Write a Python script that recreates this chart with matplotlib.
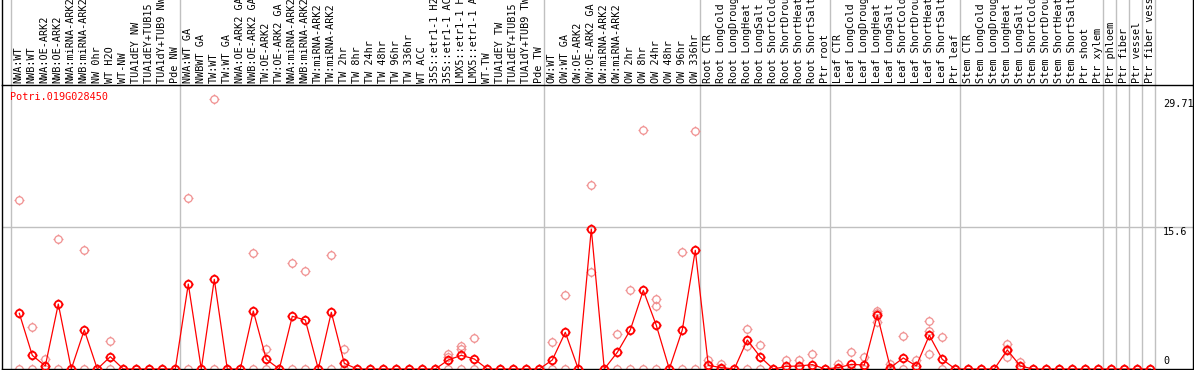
import matplotlib
matplotlib.use("Agg")
import matplotlib.pyplot as plt
from matplotlib.path import Path
from matplotlib.lines import Line2D
import numpy as np

title = "Potri.019G028450"

labels = [
    "NWA:WT", "NWB:WT", "NWA:OE-ARK2", "NWB:OE-ARK2", "NWA:miRNA-ARK2", "NWB:miRNA-ARK2",
    "NW 0hr", "WT H2O", "WT-NW", "TUA1dEY NW", "TUA1dEY+TUB15 NW", "TUA1dY+TUB9 NW", "Pde NW",
    "NWA:WT GA", "NWBWT GA", "TW:WT", "TW:WT GA", "NWA:OE-ARK2 GA", "NWB:OE-ARK2 GA",
    "TW:OE-ARK2", "TW:OE-ARK2 GA", "NWA:miRNA-ARK2", "NWB:miRNA-ARK2", "TW:miRNA-ARK2",
    "TW:miRNA-ARK2", "TW 2hr", "TW 8hr", "TW 24hr", "TW 48hr", "TW 96hr", "TW 336hr",
    "WT ACC", "35S::etr1-1 H2O", "35S::etr1-1 ACC", "LMX5::etr1-1 H2O", "LMX5::etr1-1 ACC",
    "WT-TW", "TUA1dEY TW", "TUA1dEY+TUB15 TW", "TUA1dY+TUB9 TW", "Pde TW",
    "OW:WT", "OW:WT GA", "OW:OE-ARK2", "OW:OE-ARK2 GA", "OW:miRNA-ARK2", "OW:miRNA-ARK2",
    "OW 2hr", "OW 8hr", "OW 24hr", "OW 48hr", "OW 96hr", "OW 336hr",
    "Root CTR", "Root LongCold", "Root LongDrought", "Root LongHeat", "Root LongSalt",
    "Root ShortCold", "Root ShortDrought", "Root ShortHeat", "Root ShortSalt", "Ptr root",
    "Leaf CTR", "Leaf LongCold", "Leaf LongDrought", "Leaf LongHeat", "Leaf LongSalt",
    "Leaf ShortCold", "Leaf ShortDrought", "Leaf ShortHeat", "Leaf ShortSalt", "Ptr leaf",
    "Stem CTR", "Stem LongCold", "Stem LongDrought", "Stem LongHeat", "Stem LongSalt",
    "Stem ShortCold", "Stem ShortDrought", "Stem ShortHeat", "Stem ShortSalt",
    "Ptr shoot", "Ptr xylem", "Ptr phloem", "Ptr fiber", "Ptr vessel", "Ptr fiber vessel",
]

mean_values = [
    6.12, 1.5, 0.33, 7.14, 0, 4.29, 0, 1.35, 0, 0, 0, 0, 0,
    9.34, 0, 9.85, 0, 0, 6.37, 1.06, 0, 5.79, 5.38, 0, 6.23, 0.62,
    0, 0, 0, 0, 0, 0, 0, 0.99, 1.5, 1.1, 0, 0, 0, 0, 0,
    0.99, 4.03, 0, 15.38, 0, 1.83, 4.29, 8.64, 4.8, 0, 4.29, 13.04,
    0.4, 0.15, 0, 3.19, 1.32, 0, 0.29, 0.33, 0.48, 0,
    0.15, 0.51, 0.44, 5.93, 0.15, 1.21, 0.33, 3.7, 1.06, 0,
    0, 0, 0, 2.09, 0.33, 0, 0, 0, 0, 0, 0, 0, 0, 0, 0,
]

rep_values = [
    [18.54, 0], [4.58, 0], [1.1, 0], [14.25, 0], [0], [13.08, 0], [0], [3.08, 0],
    [0], [0], [0], [0], [0],
    [18.76, 0], [0], [29.71, 0], [0], [0], [12.71, 0], [2.16, 0], [0], [11.6, 0],
    [10.73, 0], [0], [12.49, 0], [2.2, 0],
    [0], [0], [0], [0], [0], [0], [0], [1.65, 1.28, 0], [2.56, 2.23, 0], [3.41, 0],
    [0], [0], [0], [0], [0],
    [2.97, 0], [8.1, 0], [0], [20.19, 10.62], [0], [3.81, 0], [8.64, 0], [26.23, 0],
    [7.66, 6.89, 0], [0], [12.82, 0], [26.15, 0],
    [0.99, 0], [0.59, 0], [0], [4.36, 2.56, 0], [2.6, 0], [0], [0.99, 0], [0.99, 0],
    [1.61, 0], [0],
    [0.55, 0], [1.83, 0], [1.32, 0], [6.41, 6.1, 5.2], [0.51, 0], [3.63, 0], [0.99, 0],
    [5.27, 4.21, 1.61], [3.52, 0], [0],
    [0], [0], [0], [2.75, 2.2, 1.32], [0.77, 0], [0], [0], [0], [0], [0],
    [0], [0], [0], [0], [0],
]

group_starts = [0, 13, 41, 53, 63, 73, 84, 85, 86, 87, 88]
axis_marks = [0, 15.6, 29.71]

W, H = 1194, 370
fig = plt.figure(figsize=(W / 100, H / 100), dpi=100)

ax_left, ax_right = 2, 1193
ax_top, ax_bot = 85, 369
ax = fig.add_axes([ax_left / W, 1 - ax_bot / H, (ax_right - ax_left) / W, (ax_bot - ax_top) / H])

x0px, dx = 19.3, 13.0
ax.set_xlim((ax_left - x0px) / dx, (ax_right - x0px) / dx)
ppu = 9.1
ax.set_ylim(0, (ax_bot - ax_top) / ppu)
ax.set_xticks([])
ax.set_yticks([])
for s in ax.spines.values():
    s.set_color("black")
    s.set_linewidth(1.0)

# custom marker: circle with four small ticks
circ = Path.unit_circle()
ticks = []
for (a, b) in [((0, 1), (0, 1.35)), ((0, -1), (0, -1.35)), ((1, 0), (1.35, 0)), ((-1, 0), (-1.35, 0))]:
    ticks.append(Path([a, b], [Path.MOVETO, Path.LINETO]))
marker_path = Path.make_compound_path(circ, *ticks)

x = np.arange(len(labels))

# grid lines
frac_top = (ax_bot - 0) / (ax_bot - ax_top)
for g in group_starts:
    ax.axvline(g - 0.64, ymin=0, ymax=frac_top, color="#c0c0c0", lw=1.0, clip_on=False, zorder=0)
ax.axhline(15.6, color="#c0c0c0", lw=1.0, zorder=0)

# replicate points
for i, reps in enumerate(rep_values):
    ax.plot([x[i]] * len(reps), reps, linestyle="none", marker=marker_path, markersize=7.2,
            markerfacecolor="none", markeredgecolor="#f09090", markeredgewidth=0.9, zorder=2)

# mean line
ax.plot(x, mean_values, color="#ff0000", lw=0.9, marker=marker_path, markersize=7.2,
        markerfacecolor="none", markeredgecolor="#ff0000", markeredgewidth=1.3, zorder=3)

mono = "DejaVu Sans Mono"
fs = 7.3

# axis value labels at the right
xt = (1163 - ax_left) / (ax_right - ax_left)
ax.text(xt, axis_marks[2], "29.71", transform=ax.get_yaxis_transform(), ha="left", va="top",
        fontsize=fs, family=mono, color="black")
ax.text(xt, axis_marks[1], "15.6", transform=ax.get_yaxis_transform(), ha="left", va="top",
        fontsize=fs, family=mono, color="black")
ax.text(xt, 0.35, "0", transform=ax.get_yaxis_transform(), ha="left", va="bottom",
        fontsize=fs, family=mono, color="black")

# title
fig.text(10 / W, 1 - 97 / H, title, ha="left", va="center", fontsize=fs, family=mono, color="#ff0000")

# column labels
for i, lab in enumerate(labels):
    px = x0px + dx * i - 0.5
    fig.text(px / W, 1 - 83 / H, lab, rotation=90, ha="center", va="bottom",
             fontsize=fs, family=mono, color="black")

# frame in label area
fig.add_artist(Line2D([1.5 / W, 1.5 / W], [1 - ax_top / H, 1], color="black", lw=1.0))
fig.add_artist(Line2D([(ax_right - 0.5) / W, (ax_right - 0.5) / W], [1 - ax_top / H, 1], color="black", lw=1.0))

fig.savefig("out.png", dpi=100)
